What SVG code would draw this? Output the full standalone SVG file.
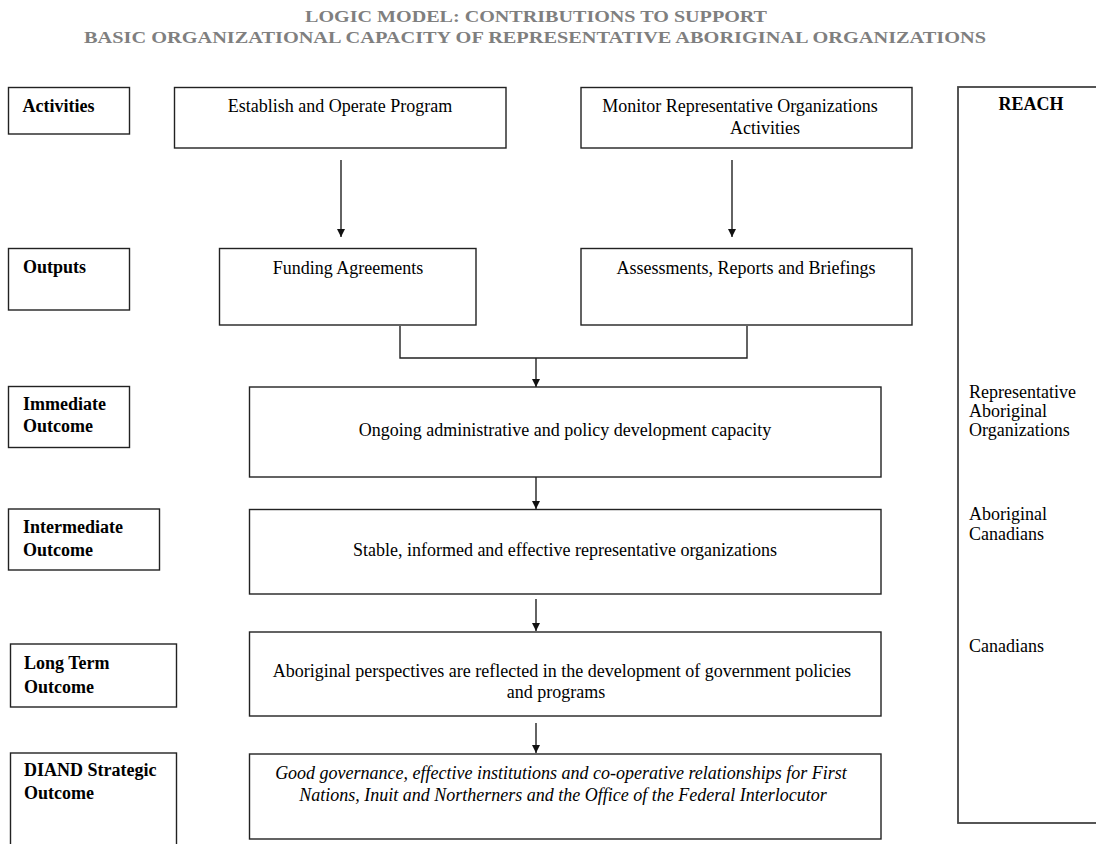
<svg xmlns="http://www.w3.org/2000/svg" width="1096" height="844" viewBox="0 0 1096 844">
<style>
.box{fill:none;stroke:#222;stroke-width:1.4}
.t{font-family:"Liberation Serif","Times New Roman",serif;font-size:18px;fill:#000}
.b{font-weight:bold}
.i{font-style:italic}
.c{text-anchor:middle}
.title{font-family:"Liberation Serif","Times New Roman",serif;font-size:16px;font-weight:bold;fill:#7f7f7f;text-anchor:start}
.conn{fill:none;stroke:#222;stroke-width:1.4}
</style>
<defs>
<marker id="arr" markerUnits="userSpaceOnUse" markerWidth="8" markerHeight="8" refX="8" refY="4" orient="auto">
<path d="M0,0 L8,4 L0,8 z" fill="#111"/>
</marker>
</defs>
<rect width="1096" height="844" fill="#fff"/>
<g id="title">
<text class="title" x="305" y="22" textLength="462" lengthAdjust="spacingAndGlyphs">LOGIC MODEL: CONTRIBUTIONS TO SUPPORT</text>
<text class="title" x="84" y="43" textLength="902" lengthAdjust="spacingAndGlyphs">BASIC ORGANIZATIONAL CAPACITY OF REPRESENTATIVE ABORIGINAL ORGANIZATIONS</text>
</g>
<g id="lbl-activities"><rect class="box" x="8.5" y="87.5" width="121" height="46.5"/><text class="t b" x="22.5" y="112">Activities</text></g>
<g id="lbl-outputs"><rect class="box" x="8.5" y="248.5" width="121" height="61.5"/><text class="t b" x="23" y="273">Outputs</text></g>
<g id="lbl-immediate"><rect class="box" x="8.5" y="386.5" width="121" height="61"/><text class="t b" x="23" y="410">Immediate</text><text class="t b" x="23" y="432">Outcome</text></g>
<g id="lbl-intermediate"><rect class="box" x="8.5" y="509" width="151" height="61"/><text class="t b" x="23" y="533">Intermediate</text><text class="t b" x="23" y="556">Outcome</text></g>
<g id="lbl-longterm"><rect class="box" x="10.5" y="644" width="166" height="63"/><text class="t b" x="24" y="669">Long Term</text><text class="t b" x="24" y="693">Outcome</text></g>
<g id="lbl-diand"><rect class="box" x="10.5" y="753" width="166" height="110"/><text class="t b" x="24" y="776">DIAND Strategic</text><text class="t b" x="24" y="799">Outcome</text></g>
<g id="establish"><rect class="box" x="174.5" y="87.5" width="331.5" height="60.5"/><text class="t c" x="340" y="112">Establish and Operate Program</text></g>
<g id="monitor"><rect class="box" x="581" y="87.5" width="331" height="60.5"/><text class="t c" x="740" y="112">Monitor Representative Organizations</text><text class="t c" x="765" y="134">Activities</text></g>
<g id="funding"><rect class="box" x="219.5" y="248.5" width="256.5" height="76.5"/><text class="t c" x="348" y="274">Funding Agreements</text></g>
<g id="assessments"><rect class="box" x="581" y="248.5" width="331" height="76.5"/><text class="t c" x="746" y="274">Assessments, Reports and Briefings</text></g>
<g id="immediate"><rect class="box" x="249.5" y="387" width="631.5" height="90"/><text class="t c" x="565" y="436">Ongoing administrative and policy development capacity</text></g>
<g id="intermediate"><rect class="box" x="249.5" y="509.5" width="631.5" height="84.5"/><text class="t c" x="565" y="556">Stable, informed and effective representative organizations</text></g>
<g id="longterm"><rect class="box" x="249.5" y="632" width="631.5" height="84"/><text class="t c" x="562" y="677">Aboriginal perspectives are reflected in the development of government policies</text><text class="t c" x="556" y="698">and programs</text></g>
<g id="strategic"><rect class="box" x="249.5" y="754" width="631.5" height="85"/><text class="t c i" x="561" y="779">Good governance, effective institutions and co-operative relationships for First</text><text class="t c i" x="563" y="801">Nations, Inuit and Northerners and the Office of the Federal Interlocutor</text></g>
<g id="reach"><rect class="box" x="958" y="87" width="150" height="736" style="stroke-width:1.8;stroke:#444"/><text class="t b c" x="1031" y="110">REACH</text>
<text class="t" x="969" y="398">Representative</text><text class="t" x="969" y="417">Aboriginal</text><text class="t" x="969" y="436">Organizations</text>
<text class="t" x="969" y="520">Aboriginal</text><text class="t" x="969" y="540">Canadians</text>
<text class="t" x="969" y="652">Canadians</text></g>
<g id="connectors">
<path class="conn" d="M341,160 V237" marker-end="url(#arr)"/>
<path class="conn" d="M732,160 V237" marker-end="url(#arr)"/>
<path class="conn" d="M400,326 V358 H747 V326"/>
<path class="conn" d="M536,358 V387" marker-end="url(#arr)"/>
<path class="conn" d="M536,477 V509" marker-end="url(#arr)"/>
<path class="conn" d="M536,599 V631" marker-end="url(#arr)"/>
<path class="conn" d="M536,723 V753" marker-end="url(#arr)"/>
</g>
</svg>
